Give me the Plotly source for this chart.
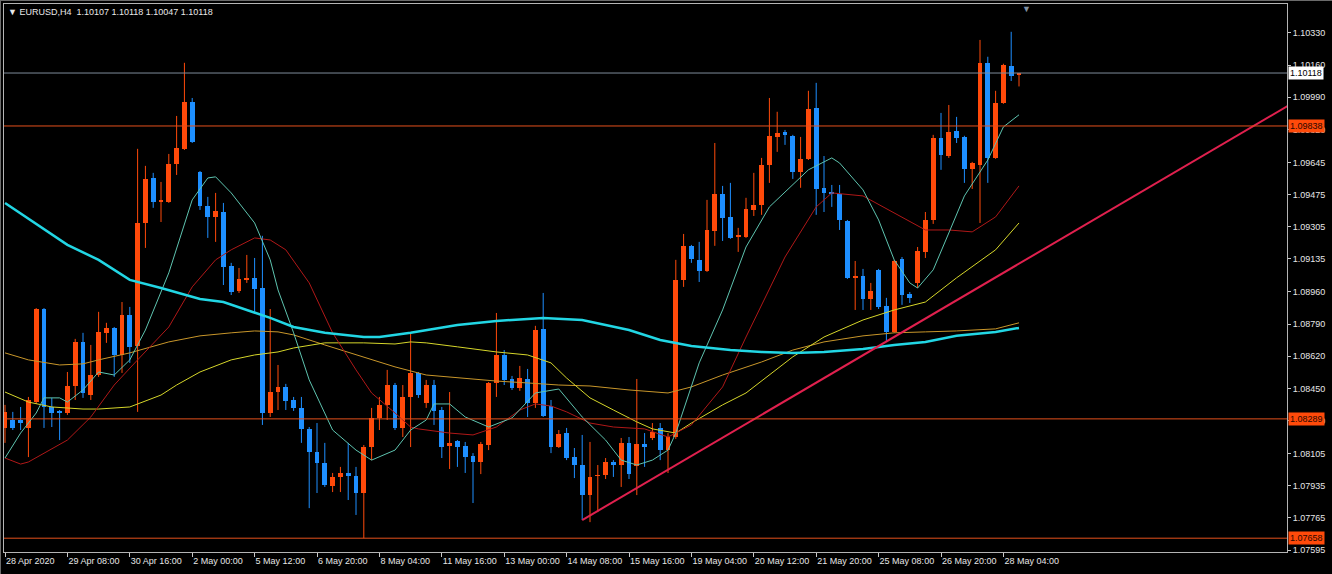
import plotly.graph_objects as go

# ---------------- data (H4 EURUSD, bar index 0..130) ----------------
opens = [1.08241,1.08283,1.08283,1.08241,1.08378,1.08870,1.08352,1.08331,1.08320,1.08463,
         1.08696,1.08415,1.08521,1.08744,1.08770,1.08627,1.08839,1.08675,1.09325,1.09563,
         1.09436,1.09436,1.09637,1.09717,1.09965,1.09595,1.09415,1.09357,1.09383,1.09098,
         1.08966,1.09024,1.09034,1.08981,1.08320,1.08431,1.08458,1.08389,1.08347,1.08236,
         1.08114,1.08056,1.07934,1.07982,1.08003,1.07987,1.07897,1.08140,1.08294,1.08363,
         1.08468,1.08241,1.08405,1.08532,1.08373,1.08468,1.08336,1.08146,1.08172,1.08146,
         1.08093,1.08061,1.08151,1.08479,1.08627,1.08500,1.08452,1.08500,1.08373,1.08765,
         1.08357,1.08140,1.08214,1.08087,1.08045,1.07886,1.07987,1.07992,1.08061,1.08045,
         1.08162,1.08040,1.08156,1.08188,1.08241,1.08124,1.08193,1.09024,1.09204,1.09130,
         1.09072,1.09283,1.09479,1.09357,1.09251,1.09251,1.09394,1.09420,1.09632,1.09780,
         1.09807,1.09786,1.09595,1.09664,1.09933,1.09511,1.09489,1.09479,1.09336,1.09034,
         1.09045,1.08923,1.09077,1.08886,1.08749,1.09135,1.08950,1.09008,1.09172,1.09341,
         1.09775,1.09679,1.09812,1.09780,1.09611,1.09632,1.10172,1.09669,1.09960,1.10156,
         1.10107]
highs = [1.08363,1.08326,1.08352,1.08405,1.08875,1.08875,1.08400,1.08336,1.08537,1.08712,
         1.08744,1.08680,1.08855,1.08797,1.08775,1.08907,1.08881,1.09717,1.09627,1.09590,
         1.09542,1.09690,1.09891,1.10172,1.09986,1.09600,1.09463,1.09484,1.09431,1.09114,
         1.09087,1.09156,1.09140,1.09257,1.08870,1.08574,1.08474,1.08405,1.08405,1.08246,
         1.08267,1.08162,1.08003,1.08035,1.08162,1.08035,1.08151,1.08347,1.08405,1.08548,
         1.08479,1.08468,1.08744,1.08537,1.08495,1.08495,1.08352,1.08431,1.08177,1.08167,
         1.08108,1.08167,1.08484,1.08849,1.08653,1.08516,1.08569,1.08553,1.08781,1.08955,
         1.08389,1.08230,1.08241,1.08135,1.08204,1.08167,1.08045,1.08082,1.08071,1.08188,
         1.08193,1.08500,1.08214,1.08267,1.08267,1.08214,1.09130,1.09267,1.09209,1.09225,
         1.09447,1.09748,1.09521,1.09537,1.09299,1.09458,1.09590,1.09669,1.09986,1.09913,
         1.09817,1.09791,1.09780,1.10024,1.10066,1.09679,1.09526,1.09526,1.09341,1.09124,
         1.09082,1.09008,1.09082,1.08929,1.09130,1.09145,1.08960,1.09198,1.09383,1.09791,
         1.09907,1.09949,1.09886,1.09786,1.09648,1.10293,1.10204,1.10024,1.10167,1.10336,
         1.10118]
lows = [1.08162,1.08230,1.08230,1.08087,1.08368,1.08241,1.08246,1.08177,1.08310,1.08389,
        1.08400,1.08389,1.08511,1.08691,1.08511,1.08532,1.08585,1.08326,1.09193,1.09405,
        1.09330,1.09431,1.09579,1.09711,1.09748,1.09394,1.09246,1.09225,1.08997,1.08944,
        1.08955,1.09008,1.08855,1.08257,1.08299,1.08336,1.08336,1.08331,1.08162,1.07817,
        1.07897,1.07929,1.07902,1.07902,1.07860,1.07781,1.07658,1.08071,1.08230,1.08283,
        1.08230,1.08193,1.08140,1.08400,1.08347,1.08257,1.08082,1.08024,1.08035,1.08003,
        1.07844,1.07997,1.08124,1.08405,1.08468,1.08442,1.08437,1.08299,1.08347,1.08299,
        1.08108,1.08135,1.08071,1.07976,1.07754,1.07743,1.07796,1.07971,1.07982,1.07929,
        1.07971,1.07886,1.08035,1.08177,1.08071,1.08003,1.08183,1.08987,1.09114,1.09013,
        1.09066,1.09204,1.09230,1.09241,1.09172,1.09246,1.09362,1.09368,1.09537,1.09701,
        1.09738,1.09558,1.09511,1.09658,1.09368,1.09383,1.09410,1.09288,1.09029,1.08865,
        1.08865,1.08865,1.08870,1.08696,1.08744,1.08892,1.08902,1.08981,1.09140,1.09320,
        1.09606,1.09669,1.09748,1.09537,1.09505,1.09325,1.09537,1.09664,1.09955,1.10076,
        1.10047]
closes = [1.08326,1.08241,1.08267,1.08389,1.08870,1.08352,1.08320,1.08320,1.08463,1.08696,
          1.08426,1.08521,1.08749,1.08770,1.08627,1.08839,1.08670,1.09325,1.09558,1.09436,
          1.09447,1.09637,1.09722,1.09965,1.09754,1.09415,1.09357,1.09389,1.09092,1.08960,
          1.09029,1.09029,1.08976,1.08320,1.08431,1.08458,1.08384,1.08347,1.08236,1.08114,
          1.08056,1.07939,1.07982,1.08003,1.07987,1.07897,1.08140,1.08294,1.08363,1.08468,
          1.08241,1.08405,1.08532,1.08415,1.08468,1.08331,1.08140,1.08162,1.08140,1.08087,
          1.08061,1.08156,1.08479,1.08627,1.08495,1.08452,1.08505,1.08373,1.08759,1.08304,
          1.08140,1.08209,1.08082,1.08045,1.07886,1.07982,1.07992,1.08061,1.08045,1.08162,
          1.07997,1.08156,1.08140,1.08220,1.08124,1.08193,1.09024,1.09204,1.09135,1.09072,
          1.09288,1.09479,1.09352,1.09246,1.09257,1.09399,1.09420,1.09632,1.09786,1.09801,
          1.09791,1.09595,1.09664,1.09928,1.09505,1.09484,1.09479,1.09341,1.09034,1.09045,
          1.08923,1.08966,1.08881,1.08749,1.09124,1.08944,1.08929,1.09177,1.09341,1.09775,
          1.09685,1.09807,1.09775,1.09611,1.09642,1.10172,1.09669,1.09960,1.10161,1.10103,
          1.10118]

# moving averages (read at sampled bars)
ma200_x = [0,8,12,16,20,25,28,32,34,37,41,46,48,52,58,63,69,74,80,84,88,93,97,101,105,110,114,118,122,127,130]
ma200_y = [1.09431,1.09209,1.09130,1.09024,1.08981,1.08923,1.08907,1.08849,1.08823,1.08775,
           1.08744,1.08722,1.08722,1.08744,1.08786,1.08807,1.08823,1.08812,1.08759,1.08706,
           1.08675,1.08653,1.08643,1.08638,1.08643,1.08659,1.08680,1.08696,1.08728,1.08749,1.08770]
ma100_x = [0,3,7,10,12,16,21,25,29,32,35,37,41,46,50,54,58,63,67,71,75,80,85,88,92,97,101,105,110,114,118,122,127,130]
ma100_y = [1.08638,1.08601,1.08574,1.08580,1.08601,1.08638,1.08696,1.08728,1.08744,1.08754,
           1.08749,1.08733,1.08680,1.08617,1.08564,1.08521,1.08505,1.08489,1.08479,1.08468,
           1.08463,1.08442,1.08426,1.08458,1.08521,1.08590,1.08653,1.08696,1.08728,1.08744,
           1.08749,1.08754,1.08765,1.08797]
ma50_x = [0,3,6,10,12,16,20,22,25,29,32,35,37,41,46,50,52,54,58,63,67,70,72,75,78,81,83,86,88,92,95,101,105,110,114,118,122,127,130]
ma50_y = [1.08431,1.08378,1.08352,1.08341,1.08341,1.08352,1.08415,1.08468,1.08537,1.08601,
          1.08627,1.08643,1.08664,1.08691,1.08691,1.08685,1.08696,1.08691,1.08670,1.08643,
          1.08627,1.08585,1.08505,1.08400,1.08336,1.08273,1.08236,1.08214,1.08267,1.08363,
          1.08426,1.08617,1.08722,1.08812,1.08865,1.08907,1.09035,1.09183,1.09325]
ma20_x = [0,2,3,5,8,11,14,17,21,24,27,29,32,34,36,39,42,45,47,50,52,53,57,60,63,66,68,70,72,75,
          78,82,85,88,92,95,100,104,106,110,114,118,121,124,127,130]
ma20_y = [1.08082,1.08050,1.08061,1.08108,1.08177,1.08299,1.08468,1.08601,1.08775,1.08987,
          1.09130,1.09183,1.09246,1.09235,1.09183,1.09008,1.08744,1.08548,1.08426,1.08320,
          1.08246,1.08236,1.08214,1.08204,1.08246,1.08336,1.08368,1.08357,1.08326,1.08267,
          1.08246,1.08236,1.08193,1.08257,1.08458,1.08722,1.09145,1.09410,1.09484,1.09468,
          1.09378,1.09288,1.09288,1.09278,1.09357,1.09521]
ma10_x = [0,2,4,5,7,8,10,12,14,16,18,21,24,26,27,29,32,34,35,37,39,42,45,47,50,52,54,55,57,59,
          62,65,68,71,74,77,79,81,83,85,86,89,92,95,98,101,103,106,107,110,112,114,116,117,119,
          121,123,126,128,130]
ma10_y = [1.08082,1.08214,1.08320,1.08400,1.08400,1.08378,1.08442,1.08537,1.08521,1.08601,
          1.08759,1.09061,1.09447,1.09563,1.09569,1.09484,1.09325,1.09130,1.08971,1.08744,
          1.08495,1.08230,1.08124,1.08071,1.08124,1.08230,1.08283,1.08368,1.08368,1.08299,
          1.08246,1.08294,1.08426,1.08447,1.08299,1.08177,1.08071,1.08045,1.08071,1.08124,
          1.08214,1.08585,1.08865,1.09198,1.09410,1.09526,1.09606,1.09669,1.09642,1.09500,
          1.09341,1.09130,1.09008,1.08981,1.09077,1.09272,1.09468,1.09658,1.09833,1.09897]

trend_x = [74, 170]
trend_y = [1.07754, 1.10078]

bid_price = 1.10118
level_prices = [1.09838, 1.08289, 1.07658]

x_tick_idx = [0, 8, 16, 24, 32, 40, 48, 56, 64, 72, 80, 88, 96, 104, 112, 120, 128]
x_tick_text = ["28 Apr 2020", "29 Apr 08:00", "30 Apr 16:00", "2 May 00:00", "5 May 12:00",
               "6 May 20:00", "8 May 04:00", "11 May 16:00", "13 May 00:00", "14 May 08:00",
               "15 May 16:00", "19 May 04:00", "20 May 12:00", "21 May 20:00", "25 May 08:00",
               "26 May 20:00", "28 May 04:00"]
y_ticks = [1.10330, 1.10160, 1.09990, 1.09820, 1.09645, 1.09475, 1.09305, 1.09135, 1.08960,
           1.08790, 1.08620, 1.08450, 1.08280, 1.08105, 1.07935, 1.07765, 1.07595]

title_text = "▼ EURUSD,H4  1.10107 1.10118 1.10047 1.10118"

# ---------------- styling ----------------
BULL = "#FF4A0A"
BEAR = "#1E8FFF"
FONT = "Liberation Sans, Arial, sans-serif"

fig = go.Figure()

def candle_traces(select, color):
    idx = [i for i in range(len(opens)) if select(i)]
    wx, wy = [], []
    for i in idx:
        wx += [i, i, None]
        wy += [lows[i], highs[i], None]
    fig.add_trace(go.Scatter(x=wx, y=wy, mode="lines", line=dict(color=color, width=1),
                             hoverinfo="skip", showlegend=False))
    base = [min(opens[i], closes[i]) for i in idx]
    h = [max(abs(closes[i] - opens[i]), 0.00005) for i in idx]
    fig.add_trace(go.Bar(x=idx, y=h, base=base, width=0.62,
                         marker=dict(color=color, line=dict(width=0)),
                         showlegend=False, hoverinfo="skip"))

candle_traces(lambda i: closes[i] >= opens[i], BULL)
candle_traces(lambda i: closes[i] < opens[i], BEAR)

# moving averages
fig.add_trace(go.Scatter(x=ma100_x, y=ma100_y, mode="lines",
                         line=dict(color="#C8962A", width=1), showlegend=False))
fig.add_trace(go.Scatter(x=ma50_x, y=ma50_y, mode="lines",
                         line=dict(color="#D6D62A", width=1), showlegend=False))
fig.add_trace(go.Scatter(x=ma20_x, y=ma20_y, mode="lines",
                         line=dict(color="#B01818", width=1), showlegend=False))
fig.add_trace(go.Scatter(x=ma10_x, y=ma10_y, mode="lines",
                         line=dict(color="#5EC4B0", width=1), showlegend=False))
fig.add_trace(go.Scatter(x=ma200_x, y=ma200_y, mode="lines",
                         line=dict(color="#22D6E4", width=2.5), showlegend=False))

# trend line
fig.add_trace(go.Scatter(x=trend_x, y=trend_y, mode="lines",
                         line=dict(color="#E0204E", width=2), showlegend=False))

# horizontal levels
fig.add_hline(y=bid_price, line=dict(color="#7E8C9A", width=1))
for p in level_prices:
    fig.add_hline(y=p, line=dict(color="#E4501C", width=1))

# window frame (top and left edges)
fig.add_shape(type="line", xref="paper", yref="paper", x0=-4/1283, x1=1328/1283,
              y0=1 + 3.5/548, y1=1 + 3.5/548, line=dict(color="#6A6A6A", width=1))
fig.add_shape(type="line", xref="paper", yref="paper", x0=-3.5/1283, x1=-3.5/1283,
              y0=-22/548, y1=1 + 4/548, line=dict(color="#6A6A6A", width=1))

# price labels on the right axis
fig.add_annotation(x=1, xref="paper", y=bid_price, yref="y", xanchor="left", yanchor="middle",
                   xshift=1, text=f"{bid_price:.5f}", showarrow=False, bgcolor="#FFFFFF",
                   borderpad=1, font=dict(color="#000000", size=9, family=FONT))
for p in level_prices:
    fig.add_annotation(x=1, xref="paper", y=p, yref="y", xanchor="left", yanchor="middle",
                       xshift=1, text=f"{p:.5f}", showarrow=False, bgcolor="#FF4A0A",
                       borderpad=1, font=dict(color="#2A0800", size=9, family=FONT))

# chart title and shift marker
fig.add_annotation(x=0, xref="paper", y=1, yref="paper", xanchor="left", yanchor="top",
                   xshift=2, yshift=-1, text=title_text, showarrow=False,
                   font=dict(color="#E8E8E8", size=9, family=FONT))
fig.add_annotation(x=131, xref="x", y=1, yref="paper", xanchor="center", yanchor="top",
                   yshift=2, text="▼", showarrow=False,
                   font=dict(color="#8090A4", size=9, family=FONT))

fig.update_layout(
    width=1332, height=574,
    margin=dict(l=4, r=45, t=4, b=22, autoexpand=False),
    paper_bgcolor="#000000", plot_bgcolor="#000000",
    barmode="overlay", bargap=0, showlegend=False,
    font=dict(family=FONT, size=9, color="#E6E6E6"),
    xaxis=dict(range=[-0.13, 164.36], showgrid=False, zeroline=False, automargin=False,
               showline=True, linecolor="#B4B4B4", linewidth=1, mirror=True,
               ticks="outside", ticklen=4, tickcolor="#C8C8C8", tickangle=0,
               tickvals=x_tick_idx, ticktext=x_tick_text,
               ticklabelposition="outside right",
               tickfont=dict(color="#E6E6E6", size=9, family=FONT)),
    yaxis=dict(range=[1.07585, 1.10483], side="right", showgrid=False, zeroline=False,
               automargin=False,
               showline=True, linecolor="#B4B4B4", linewidth=1, mirror=True,
               ticks="outside", ticklen=3, tickcolor="#C8C8C8",
               tickvals=y_ticks, ticktext=[f"{v:.5f}" for v in y_ticks],
               tickfont=dict(color="#E6E6E6", size=9, family=FONT)),
)

fig.write_html("out.html", config={"displayModeBar": False},
               post_script="document.body.style.margin='0';document.body.style.background='#000';")
